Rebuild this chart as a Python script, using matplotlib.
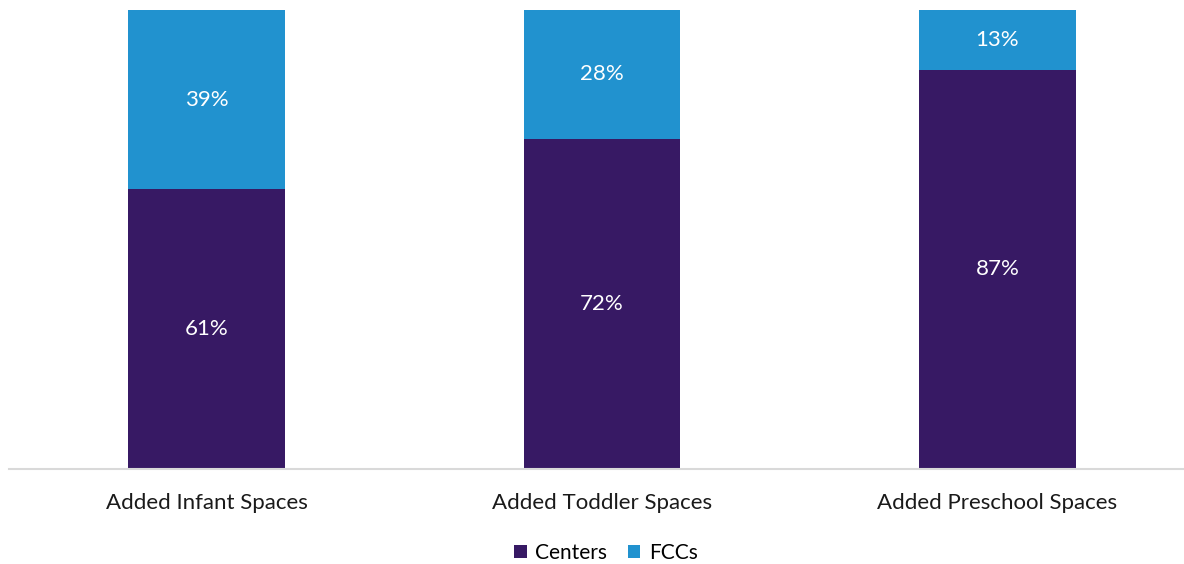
import matplotlib.pyplot as plt
import numpy as np

plt.rcParams['font.family'] = ['Lato', 'DejaVu Sans']

categories = ["Added Infant Spaces", "Added Toddler Spaces", "Added Preschool Spaces"]
centers = [61, 72, 87]
fccs = [39, 28, 13]

purple = "#371964"
blue = "#2192cf"

fig = plt.figure(figsize=(11.84, 5.64), dpi=100)
ax = fig.add_axes([9 / 1184, 95 / 564, 1186 / 1184, 459 / 564])

x = np.arange(len(categories))
width = 0.397
b1 = ax.bar(x, centers, width, color=purple, label="Centers")
b2 = ax.bar(x, fccs, width, bottom=centers, color=blue, label="FCCs")

for bars, vals, bottoms in [(b1, centers, [0] * 3), (b2, fccs, centers)]:
    for bar, v, b in zip(bars, vals, bottoms):
        ax.text(bar.get_x() + bar.get_width() / 2, b + v / 2, f"{v}%",
                ha="center", va="center", color="white", fontsize=16)

ax.set_xlim(-0.5, 2.5)
ax.set_ylim(0, 100)
ax.set_xticks(x)
ax.set_xticklabels(categories, fontsize=16, color="#1a1a1a")
ax.tick_params(axis="x", length=0, pad=17)
ax.set_yticks([])
for side in ["top", "right", "left"]:
    ax.spines[side].set_visible(False)
ax.spines["bottom"].set_color("#d9d9d9")
ax.spines["bottom"].set_linewidth(1.5)

fig.legend(handles=[b1, b2], loc="center", bbox_to_anchor=(606 / 1184, 1 - 553 / 564),
           ncol=2, frameon=False, fontsize=15, handlelength=0.6, handleheight=0.6,
           handletextpad=0.4, columnspacing=1.0)

fig.savefig("out.png", dpi=100)
